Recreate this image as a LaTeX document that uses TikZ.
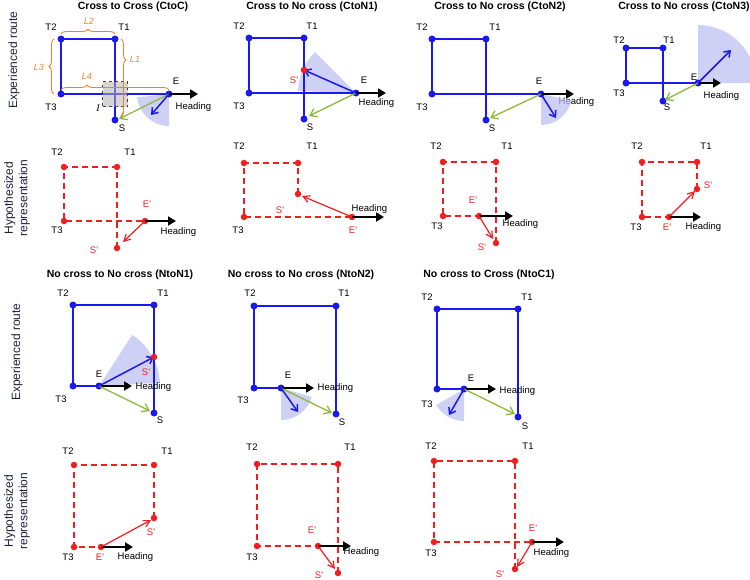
\documentclass[tikz,border=0pt]{standalone}
\usepackage{fontspec}
\setmainfont{Liberation Sans}
\newfontfamily\timesit{Liberation Serif}
\usepackage{tikz}
\usetikzlibrary{arrows.meta,decorations.pathreplacing}
\usepackage{xcolor}
\definecolor{routeblue}{RGB}{25,25,240}
\definecolor{hypred}{RGB}{240,30,30}
\definecolor{vecgreen}{RGB}{140,185,60}
\definecolor{fanblue}{RGB}{190,192,242}
\definecolor{braceorange}{RGB}{235,130,50}
\definecolor{rowtext}{RGB}{30,35,60}
\newcommand{\prm}{\textquotesingle}

\begin{document}
\begin{tikzpicture}[x=1pt, y=-1pt,
  route/.style={draw=routeblue, line width=2.4pt},
  hypline/.style={draw=hypred, line width=1.8pt, dash pattern=on 6pt off 4pt},
  bdot/.style={circle, fill=routeblue, inner sep=0pt, minimum size=7pt},
  rdot/.style={circle, fill=hypred, inner sep=0pt, minimum size=6.5pt},
  headarrow/.style={line width=2.8pt, -{Triangle[length=8pt,width=9pt]}},
  estarrow/.style={draw=routeblue, line width=1.5pt, -{Straight Barb[length=5.5pt,width=8pt]}},
  homearrow/.style={draw=vecgreen, line width=1.3pt, -{Straight Barb[length=6.5pt,width=9pt]}},
  hyparrow/.style={draw=hypred, line width=1.2pt, -{Straight Barb[length=6.5pt,width=7pt]}},
  fan/.style={fill=fanblue, fill opacity=0.75},
  lbl/.style={font=\fontsize{9.5}{11}\selectfont, inner sep=0.5pt},
  rlbl/.style={lbl, text=hypred},
  ttl/.style={font=\bfseries\fontsize{10.5}{12}\selectfont},
  rowlbl/.style={rotate=90, align=center, text=rowtext, font=\fontsize{12}{14.5}\selectfont},
  lenbrace/.style={draw=braceorange, line width=0.9pt, decorate, decoration={brace, amplitude=5pt, aspect=#1}},
  lentext/.style={text=braceorange, font=\itshape\fontsize{9}{10}\selectfont},
  crossbox/.style={draw=black!75, fill=gray!60, fill opacity=0.55, dashed, line width=1.2pt, minimum size=25pt, inner sep=0pt}]
\useasboundingbox (0,0) rectangle (750,579);

% row labels
\node[rowlbl] (row1) at (14,60) {Experienced route};
\node[rowlbl] (row2) at (17,198) {Hypothesized\\representation};
\node[rowlbl] (row3) at (17,352) {Experienced route};
\node[rowlbl] (row4) at (17,511) {Hypothesized\\representation};

% titles
\node[ttl] (t-cc) at (133,7) {Cross to Cross (CtoC)};
\node[ttl] (t-cn1) at (312,7) {Cross to No cross (CtoN1)};
\node[ttl] (t-cn2) at (500,7) {Cross to No cross (CtoN2)};
\node[ttl] (t-cn3) at (684,7) {Cross to No cross (CtoN3)};
\node[ttl] (t-nn1) at (120,275) {No cross to No cross (NtoN1)};
\node[ttl] (t-nn2) at (301,275) {No cross to No cross (NtoN2)};
\node[ttl] (t-nc1) at (489,275) {No cross to Cross (NtoC1)};

%%%%% CtoC, experienced
\coordinate (cc-T1) at (115,39);
\coordinate (cc-T2) at (61,39);
\coordinate (cc-T3) at (61,94);
\coordinate (cc-E) at (169,94);
\coordinate (cc-S) at (115,120);
\coordinate (cc-hd) at (198,94);
\coordinate (cc-est) at (151,115);
\coordinate (cc-home) at (119,119);
\fill[fan] (cc-E) -- ++(-174:32pt) arc[start angle=-174, end angle=-90, radius=32pt] -- cycle;
\draw[route] (cc-S) -- (cc-T1) -- (cc-T2) -- (cc-T3) -- (cc-E);
\node[crossbox] (cc-I) at (115,94) {};
\foreach \p in {T1,T2,T3,E,S} \node[bdot] (cc-\p d) at (cc-\p) {};
\draw[headarrow] (cc-E) -- (cc-hd);
\draw[homearrow] (cc-E) -- (cc-home);
\draw[estarrow] (cc-E) -- (cc-est);
\node[lbl] (cc-T2l) at (51,27) {T2};
\node[lbl] (cc-T1l) at (124,27) {T1};
\node[lbl] (cc-T3l) at (51,107) {T3};
\node[lbl] (cc-El) at (176,81) {E};
\node[lbl] (cc-Sl) at (122,128) {S};
\node[lbl, anchor=west] (cc-hl) at (175,107) {Heading};
\node[font=\timesit\itshape\fontsize{10}{11}\selectfont] (cc-Il) at (98,108) {I};
% path lengths
\draw[lenbrace=0.5] (61,34) -- (115,34);
\draw[lenbrace=0.5] (54,94) -- (54,39);
\draw[lenbrace=0.27] (121,39) -- (121,117);
\draw[lenbrace=0.24] (61,90) -- (169,90);
\node[lentext] (cc-L2) at (89,21) {L2};
\node[lentext] (cc-L1) at (135,59) {L1};
\node[lentext] (cc-L3) at (39,67) {L3};
\node[lentext] (cc-L4) at (87,76) {L4};

%%%%% CtoN1, experienced
\coordinate (cn1-T1) at (304,38);
\coordinate (cn1-T2) at (249,38);
\coordinate (cn1-T3) at (249,93);
\coordinate (cn1-E) at (356,93);
\coordinate (cn1-S) at (304,119);
\coordinate (cn1-Sp) at (304,70);
\coordinate (cn1-hd) at (386,93);
\coordinate (cn1-home) at (309,116);
\fill[fan] (cn1-E) -- ++(135:58pt) arc[start angle=135, end angle=178, radius=58pt] -- cycle;
\draw[route] (cn1-S) -- (cn1-T1) -- (cn1-T2) -- (cn1-T3) -- (cn1-E);
\foreach \p in {T1,T2,T3,E,S} \node[bdot] (cn1-\p d) at (cn1-\p) {};
\draw[headarrow] (cn1-E) -- (cn1-hd);
\draw[homearrow] (cn1-E) -- (cn1-home);
\draw[estarrow] (cn1-E) -- (cn1-Sp);
\node[rdot] (cn1-Spd) at (cn1-Sp) {};
\node[lbl] (cn1-T2l) at (239,26) {T2};
\node[lbl] (cn1-T1l) at (312,26) {T1};
\node[lbl] (cn1-T3l) at (239,106) {T3};
\node[lbl] (cn1-El) at (364,80) {E};
\node[lbl] (cn1-Sl) at (310,127) {S};
\node[rlbl] (cn1-Spl) at (294,80) {S\prm};
\node[lbl, anchor=west] (cn1-hl) at (358,103) {Heading};

%%%%% CtoN2, experienced
\coordinate (cn2-T1) at (486,39);
\coordinate (cn2-T2) at (432,39);
\coordinate (cn2-T3) at (432,94);
\coordinate (cn2-E) at (541,94);
\coordinate (cn2-S) at (486,120);
\coordinate (cn2-hd) at (574,94);
\coordinate (cn2-est) at (556,118);
\coordinate (cn2-home) at (490,118);
\node[lbl, anchor=west] (cn2-hl) at (558,102) {Heading};
\fill[fan] (cn2-E) -- ++(-90:31pt) arc[start angle=-90, end angle=-12, radius=31pt] -- cycle;
\draw[route] (cn2-S) -- (cn2-T1) -- (cn2-T2) -- (cn2-T3) -- (cn2-E);
\foreach \p in {T1,T2,T3,E,S} \node[bdot] (cn2-\p d) at (cn2-\p) {};
\draw[headarrow] (cn2-E) -- (cn2-hd);
\draw[homearrow] (cn2-E) -- (cn2-home);
\draw[estarrow] (cn2-E) -- (cn2-est);
\node[lbl] (cn2-T2l) at (422,27) {T2};
\node[lbl] (cn2-T1l) at (495,27) {T1};
\node[lbl] (cn2-T3l) at (422,107) {T3};
\node[lbl] (cn2-El) at (539,81) {E};
\node[lbl] (cn2-Sl) at (492,128) {S};

%%%%% CtoN3, experienced
\coordinate (cn3-T1) at (663,48);
\coordinate (cn3-T2) at (626,48);
\coordinate (cn3-T3) at (626,83);
\coordinate (cn3-E) at (698,83);
\coordinate (cn3-S) at (663,101);
\coordinate (cn3-hd) at (721,83);
\coordinate (cn3-est) at (731,50);
\coordinate (cn3-home) at (665,100);
\fill[fan] (cn3-E) -- ++(0:58pt) arc[start angle=0, end angle=90, radius=58pt] -- cycle;
\draw[route] (cn3-S) -- (cn3-T1) -- (cn3-T2) -- (cn3-T3) -- (cn3-E);
\foreach \p in {T1,T2,T3,E,S} \node[bdot] (cn3-\p d) at (cn3-\p) {};
\draw[headarrow] (cn3-E) -- (cn3-hd);
\draw[homearrow] (cn3-E) -- (cn3-home);
\draw[estarrow] (cn3-E) -- (cn3-est);
\node[lbl] (cn3-T2l) at (619,40) {T2};
\node[lbl] (cn3-T1l) at (669,40) {T1};
\node[lbl] (cn3-T3l) at (619,93) {T3};
\node[lbl] (cn3-El) at (694,77) {E};
\node[lbl] (cn3-Sl) at (667,107) {S};
\node[lbl, anchor=west] (cn3-hl) at (703,96) {Heading};

%%%%% CtoC, hypothesized
\coordinate (hcc-T1) at (117,167);
\coordinate (hcc-T2) at (64,167);
\coordinate (hcc-T3) at (64,221);
\coordinate (hcc-E) at (145,221);
\coordinate (hcc-S) at (117,248);
\coordinate (hcc-hd) at (176,221);
\coordinate (hcc-arr) at (123,242);
\draw[hypline] (hcc-S) -- (hcc-T1) -- (hcc-T2) -- (hcc-T3) -- (hcc-E);
\foreach \p in {T1,T2,T3,E,S} \node[rdot] (hcc-\p d) at (hcc-\p) {};
\draw[headarrow] (hcc-E) -- (hcc-hd);
\draw[hyparrow] (hcc-E) -- (hcc-arr);
\node[lbl] (hcc-T2l) at (57,152) {T2};
\node[lbl] (hcc-T1l) at (130,152) {T1};
\node[lbl] (hcc-T3l) at (57,230) {T3};
\node[rlbl] (hcc-El) at (147,204) {E\prm};
\node[rlbl] (hcc-Sl) at (94,250) {S\prm};
\node[lbl, anchor=west] (hcc-hl) at (160,232) {Heading};

%%%%% CtoN1, hypothesized
\coordinate (hcn1-T1) at (298,163);
\coordinate (hcn1-T2) at (244,163);
\coordinate (hcn1-T3) at (244,217);
\coordinate (hcn1-E) at (352,217);
\coordinate (hcn1-S) at (298,194);
\coordinate (hcn1-hd) at (384,217);
\coordinate (hcn1-arr) at (302,196);
\draw[hypline] (hcn1-S) -- (hcn1-T1) -- (hcn1-T2) -- (hcn1-T3) -- (hcn1-E);
\foreach \p in {T1,T2,T3,E,S} \node[rdot] (hcn1-\p d) at (hcn1-\p) {};
\draw[headarrow] (hcn1-E) -- (hcn1-hd);
\draw[hyparrow] (hcn1-E) -- (hcn1-arr);
\node[lbl] (hcn1-T2l) at (239,146) {T2};
\node[lbl] (hcn1-T1l) at (312,146) {T1};
\node[lbl] (hcn1-T3l) at (238,230) {T3};
\node[rlbl] (hcn1-El) at (353,230) {E\prm};
\node[rlbl] (hcn1-Sl) at (280,210) {S\prm};
\node[lbl, anchor=west] (hcn1-hl) at (351,209) {Heading};

%%%%% CtoN2, hypothesized
\coordinate (hcn2-T1) at (496,162);
\coordinate (hcn2-T2) at (443,162);
\coordinate (hcn2-T3) at (443,216);
\coordinate (hcn2-E) at (479,216);
\coordinate (hcn2-S) at (496,243);
\coordinate (hcn2-hd) at (513,216);
\coordinate (hcn2-arr) at (493,239);
\draw[hypline] (hcn2-S) -- (hcn2-T1) -- (hcn2-T2) -- (hcn2-T3) -- (hcn2-E);
\foreach \p in {T1,T2,T3,E,S} \node[rdot] (hcn2-\p d) at (hcn2-\p) {};
\draw[headarrow] (hcn2-E) -- (hcn2-hd);
\draw[hyparrow] (hcn2-E) -- (hcn2-arr);
\node[lbl] (hcn2-T2l) at (436,146) {T2};
\node[lbl] (hcn2-T1l) at (507,146) {T1};
\node[lbl] (hcn2-T3l) at (437,226) {T3};
\node[rlbl] (hcn2-El) at (473,200) {E\prm};
\node[rlbl] (hcn2-Sl) at (482,247) {S\prm};
\node[lbl, anchor=west] (hcn2-hl) at (502,224) {Heading};

%%%%% CtoN3, hypothesized
\coordinate (hcn3-T1) at (697,162);
\coordinate (hcn3-T2) at (642,162);
\coordinate (hcn3-T3) at (642,217);
\coordinate (hcn3-E) at (669,217);
\coordinate (hcn3-S) at (697,189);
\coordinate (hcn3-hd) at (701,217);
\coordinate (hcn3-arr) at (695,191);
\draw[hypline] (hcn3-S) -- (hcn3-T1) -- (hcn3-T2) -- (hcn3-T3) -- (hcn3-E);
\foreach \p in {T1,T2,T3,E,S} \node[rdot] (hcn3-\p d) at (hcn3-\p) {};
\draw[headarrow] (hcn3-E) -- (hcn3-hd);
\draw[hyparrow] (hcn3-E) -- (hcn3-arr);
\node[lbl] (hcn3-T2l) at (637,146) {T2};
\node[lbl] (hcn3-T1l) at (706,146) {T1};
\node[lbl] (hcn3-T3l) at (636,227) {T3};
\node[rlbl] (hcn3-El) at (667,227) {E\prm};
\node[rlbl] (hcn3-Sl) at (708,185) {S\prm};
\node[lbl, anchor=west] (hcn3-hl) at (685,227) {Heading};

%%%%% NtoN1, experienced
\coordinate (nn1-T1) at (154,305);
\coordinate (nn1-T2) at (73,305);
\coordinate (nn1-T3) at (73,386);
\coordinate (nn1-E) at (99,386);
\coordinate (nn1-S) at (154,413);
\coordinate (nn1-Sp) at (154,357);
\coordinate (nn1-hd) at (132,386);
\coordinate (nn1-home) at (150,411);
\fill[fan] (nn1-E) -- ++(3:61pt) arc[start angle=3, end angle=57, radius=61pt] -- cycle;
\draw[route] (nn1-S) -- (nn1-T1) -- (nn1-T2) -- (nn1-T3) -- (nn1-E);
\foreach \p in {T1,T2,T3,E,S} \node[bdot] (nn1-\p d) at (nn1-\p) {};
\draw[headarrow] (nn1-E) -- (nn1-hd);
\draw[homearrow] (nn1-E) -- (nn1-home);
\draw[estarrow] (nn1-E) -- (nn1-Sp);
\node[rdot] (nn1-Spd) at (nn1-Sp) {};
\node[lbl] (nn1-T2l) at (63,293) {T2};
\node[lbl] (nn1-T1l) at (163,293) {T1};
\node[lbl] (nn1-T3l) at (61,399) {T3};
\node[lbl] (nn1-El) at (99,374) {E};
\node[lbl] (nn1-Sl) at (160,420) {S};
\node[rlbl] (nn1-Spl) at (146,372) {S\prm};
\node[lbl, anchor=west] (nn1-hl) at (135,387) {Heading};

%%%%% NtoN2, experienced
\coordinate (nn2-T1) at (336,306);
\coordinate (nn2-T2) at (254,306);
\coordinate (nn2-T3) at (254,388);
\coordinate (nn2-E) at (281,388);
\coordinate (nn2-S) at (336,414);
\coordinate (nn2-hd) at (314,388);
\coordinate (nn2-est) at (298,412);
\coordinate (nn2-home) at (332,413);
\fill[fan] (nn2-E) -- ++(-90:32pt) arc[start angle=-90, end angle=-16, radius=32pt] -- cycle;
\draw[route] (nn2-S) -- (nn2-T1) -- (nn2-T2) -- (nn2-T3) -- (nn2-E);
\foreach \p in {T1,T2,T3,E,S} \node[bdot] (nn2-\p d) at (nn2-\p) {};
\draw[headarrow] (nn2-E) -- (nn2-hd);
\draw[homearrow] (nn2-E) -- (nn2-home);
\draw[estarrow] (nn2-E) -- (nn2-est);
\node[lbl] (nn2-T2l) at (250,293) {T2};
\node[lbl] (nn2-T1l) at (344,293) {T1};
\node[lbl] (nn2-T3l) at (243,400) {T3};
\node[lbl] (nn2-El) at (288,375) {E};
\node[lbl] (nn2-Sl) at (342,422) {S};
\node[lbl, anchor=west] (nn2-hl) at (317,388) {Heading};

%%%%% NtoC1, experienced
\coordinate (nc1-T1) at (518,309);
\coordinate (nc1-T2) at (437,309);
\coordinate (nc1-T3) at (437,389);
\coordinate (nc1-E) at (464,389);
\coordinate (nc1-S) at (518,417);
\coordinate (nc1-hd) at (496,389);
\coordinate (nc1-est) at (449,415);
\coordinate (nc1-home) at (515,414);
\fill[fan] (nc1-E) -- ++(-150:32pt) arc[start angle=-150, end angle=-90, radius=32pt] -- cycle;
\draw[route] (nc1-S) -- (nc1-T1) -- (nc1-T2) -- (nc1-T3) -- (nc1-E);
\foreach \p in {T1,T2,T3,E,S} \node[bdot] (nc1-\p d) at (nc1-\p) {};
\draw[headarrow] (nc1-E) -- (nc1-hd);
\draw[homearrow] (nc1-E) -- (nc1-home);
\draw[estarrow] (nc1-E) -- (nc1-est);
\node[lbl] (nc1-T2l) at (427,297) {T2};
\node[lbl] (nc1-T1l) at (527,297) {T1};
\node[lbl] (nc1-T3l) at (427,404) {T3};
\node[lbl] (nc1-El) at (471,378) {E};
\node[lbl] (nc1-Sl) at (525,426) {S};
\node[lbl, anchor=west] (nc1-hl) at (499,391) {Heading};

%%%%% NtoN1, hypothesized
\coordinate (hnn1-T1) at (154,465);
\coordinate (hnn1-T2) at (74,465);
\coordinate (hnn1-T3) at (74,547);
\coordinate (hnn1-E) at (101,547);
\coordinate (hnn1-S) at (154,518);
\coordinate (hnn1-hd) at (133,547);
\coordinate (hnn1-arr) at (151,520);
\draw[hypline] (hnn1-S) -- (hnn1-T1) -- (hnn1-T2) -- (hnn1-T3) -- (hnn1-E);
\foreach \p in {T1,T2,T3,E,S} \node[rdot] (hnn1-\p d) at (hnn1-\p) {};
\draw[headarrow] (hnn1-E) -- (hnn1-hd);
\draw[hyparrow] (hnn1-E) -- (hnn1-arr);
\node[lbl] (hnn1-T2l) at (68,451) {T2};
\node[lbl] (hnn1-T1l) at (167,451) {T1};
\node[lbl] (hnn1-T3l) at (68,557) {T3};
\node[rlbl] (hnn1-El) at (100,557) {E\prm};
\node[rlbl] (hnn1-Sl) at (151,532) {S\prm};
\node[lbl, anchor=west] (hnn1-hl) at (117,557) {Heading};

%%%%% NtoN2, hypothesized
\coordinate (hnn2-T1) at (338,464);
\coordinate (hnn2-T2) at (257,464);
\coordinate (hnn2-T3) at (257,546);
\coordinate (hnn2-E) at (318,546);
\coordinate (hnn2-S) at (338,573);
\coordinate (hnn2-hd) at (351,546);
\coordinate (hnn2-arr) at (335,569);
\draw[hypline] (hnn2-S) -- (hnn2-T1) -- (hnn2-T2) -- (hnn2-T3) -- (hnn2-E);
\foreach \p in {T1,T2,T3,E,S} \node[rdot] (hnn2-\p d) at (hnn2-\p) {};
\draw[headarrow] (hnn2-E) -- (hnn2-hd);
\draw[hyparrow] (hnn2-E) -- (hnn2-arr);
\node[lbl] (hnn2-T2l) at (252,447) {T2};
\node[lbl] (hnn2-T1l) at (350,447) {T1};
\node[lbl] (hnn2-T3l) at (252,557) {T3};
\node[rlbl] (hnn2-El) at (312,530) {E\prm};
\node[rlbl] (hnn2-Sl) at (319,575) {S\prm};
\node[lbl, anchor=west] (hnn2-hl) at (343,552) {Heading};

%%%%% NtoC1, hypothesized
\coordinate (hnc1-T1) at (515,461);
\coordinate (hnc1-T2) at (434,461);
\coordinate (hnc1-T3) at (434,542);
\coordinate (hnc1-E) at (532,542);
\coordinate (hnc1-S) at (515,569);
\coordinate (hnc1-hd) at (564,542);
\coordinate (hnc1-arr) at (517,567);
\draw[hypline] (hnc1-S) -- (hnc1-T1) -- (hnc1-T2) -- (hnc1-T3) -- (hnc1-E);
\foreach \p in {T1,T2,T3,E,S} \node[rdot] (hnc1-\p d) at (hnc1-\p) {};
\draw[headarrow] (hnc1-E) -- (hnc1-hd);
\draw[hyparrow] (hnc1-E) -- (hnc1-arr);
\node[lbl] (hnc1-T2l) at (431,446) {T2};
\node[lbl] (hnc1-T1l) at (528,446) {T1};
\node[lbl] (hnc1-T3l) at (431,553) {T3};
\node[rlbl] (hnc1-El) at (533,528) {E\prm};
\node[rlbl] (hnc1-Sl) at (500,574) {S\prm};
\node[lbl, anchor=west] (hnc1-hl) at (533,553) {Heading};
\end{tikzpicture}
\end{document}
